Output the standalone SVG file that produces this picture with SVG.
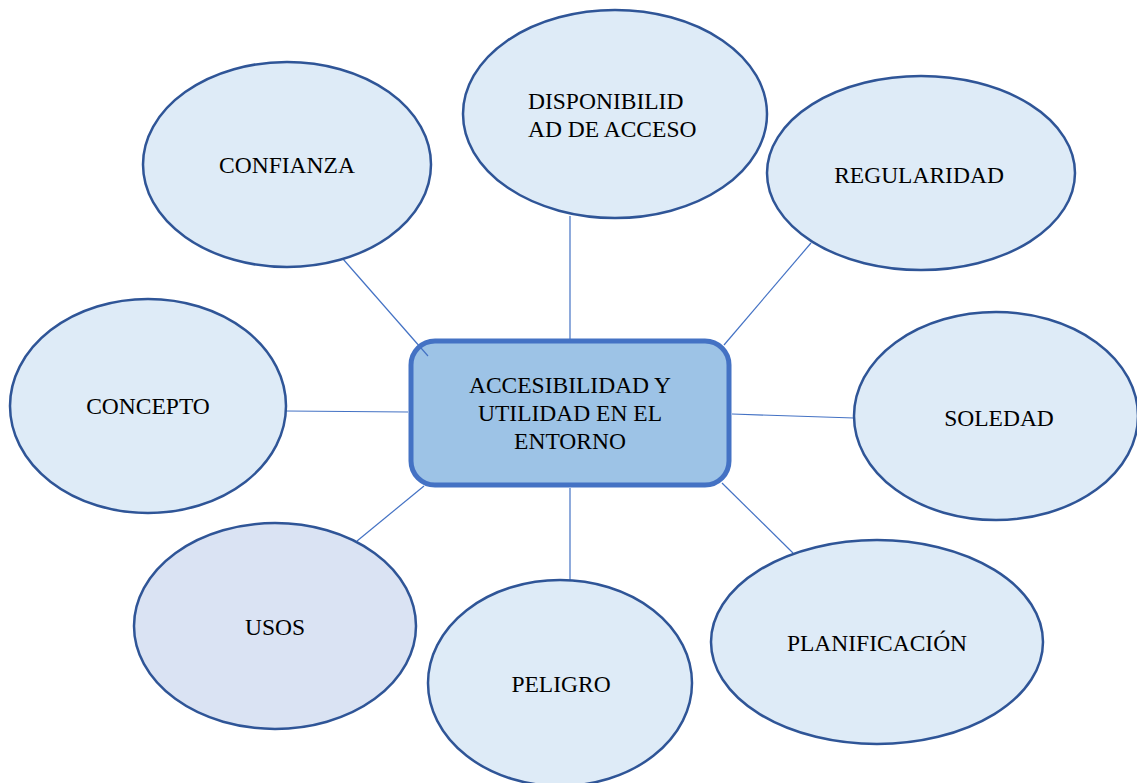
<svg xmlns="http://www.w3.org/2000/svg" width="1137" height="783" viewBox="0 0 1137 783">
<style>
.el{fill:#DEEBF7;stroke:#2F5597;stroke-width:2.5}
.el2{fill:#DAE3F3;stroke:#2F5597;stroke-width:2.5}
.t{font-family:"Liberation Serif","Times New Roman",serif;font-size:23.5px;fill:#000;text-anchor:middle}
.tl{font-family:"Liberation Serif","Times New Roman",serif;font-size:23.5px;fill:#000}
.c{stroke:#4472C4;stroke-width:1.2;fill:none}
</style>
<rect width="1137" height="783" fill="#fff"/>
<g id="center">
<rect x="411" y="341" width="318" height="144" rx="24" fill="#9DC3E6" stroke="#4472C4" stroke-width="5"/>
<text class="t" x="570" y="393">ACCESIBILIDAD Y</text>
<text class="t" x="570" y="421">UTILIDAD EN EL</text>
<text class="t" x="570" y="449">ENTORNO</text>
</g>
<g id="connectors">
<line class="c" x1="343" y1="259" x2="428" y2="356"/>
<line class="c" x1="570" y1="216" x2="570" y2="339"/>
<line class="c" x1="811" y1="243" x2="724" y2="345"/>
<line class="c" x1="732" y1="414" x2="854" y2="418"/>
<line class="c" x1="722" y1="483" x2="793" y2="553"/>
<line class="c" x1="570" y1="488" x2="570" y2="580"/>
<line class="c" x1="424" y1="486" x2="357" y2="541"/>
<line class="c" x1="286" y1="411" x2="408" y2="412"/>
</g>
<g id="confianza">
<ellipse class="el" cx="287" cy="164.5" rx="144" ry="102.5"/>
<text class="t" x="287" y="173">CONFIANZA</text>
</g>
<g id="disponibilidad">
<ellipse class="el" cx="615" cy="114" rx="152" ry="104"/>
<text class="tl" x="528" y="109">DISPONIBILID</text>
<text class="tl" x="528" y="137">AD DE ACCESO</text>
</g>
<g id="regularidad">
<ellipse class="el" cx="921" cy="173" rx="154" ry="97"/>
<text class="t" x="919" y="183">REGULARIDAD</text>
</g>
<g id="soledad">
<ellipse class="el" cx="996" cy="416" rx="142" ry="104"/>
<text class="t" x="999" y="426">SOLEDAD</text>
</g>
<g id="planificacion">
<ellipse class="el" cx="877" cy="642" rx="166" ry="102"/>
<text class="t" x="877" y="651">PLANIFICACIÓN</text>
</g>
<g id="peligro">
<ellipse class="el" cx="560" cy="683" rx="132" ry="103"/>
<text class="t" x="561" y="692">PELIGRO</text>
</g>
<g id="usos">
<ellipse class="el2" cx="275" cy="626" rx="141" ry="103"/>
<text class="t" x="275" y="635">USOS</text>
</g>
<g id="concepto">
<ellipse class="el" cx="148" cy="406" rx="138" ry="107"/>
<text class="t" x="148" y="414">CONCEPTO</text>
</g>
</svg>
